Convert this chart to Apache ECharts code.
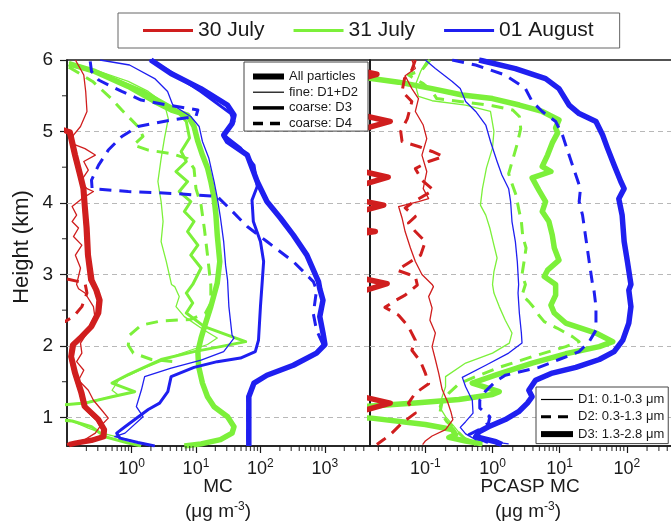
<!DOCTYPE html>
<html>
<head>
<meta charset="utf-8">
<script src="https://cdn.jsdelivr.net/npm/echarts/dist/echarts.min.js"></script>
<style>html,body{margin:0;padding:0;background:#fff}#chart{width:671px;height:524px}</style>
</head>
<body>
<div id="chart"></div>
<script>
// ---------- categories / labels ----------
const days = ['30 July', '31 July', '01 August'];
const leftKinds = ['All particles', 'fine: D1+D2', 'coarse: D3', 'coarse: D4'];
const rightKinds = ['D1: 0.1-0.3 μm', 'D2: 0.3-1.3 μm', 'D3: 1.3-2.8 μm'];
const gridLevels = [1, 2, 3, 4, 5];
const halfTicksY = [1.5, 2.5, 3.5, 4.5, 5.5];
const minorTicksLeft = [0.2,0.3,0.4,0.5,0.6,0.7,0.8,0.9,2,3,4,5,6,7,8,9,20,30,40,50,60,70,80,90,200,300,400,500,600,700,800,900,2000,3000,4000];
const minorTicksRight = [0.02,0.03,0.04,0.05,0.06,0.07,0.08,0.09,0.2,0.3,0.4,0.5,0.6,0.7,0.8,0.9,2,3,4,5,6,7,8,9,20,30,40,50,60,70,80,90,200,300,400,500,600,700,800,900];

// ---------- left panel: MC [value, height km] ----------
const redAllL = [[0.05,5.1],[0.112,4.99],[0.135,4.67],[0.162,4.39],[0.182,4.20],[0.19,3.97],[0.204,3.65],[0.214,3.27],[0.243,2.92],[0.288,2.78],[0.324,2.64],[0.309,2.46],[0.24,2.27],[0.17,2.13],[0.126,2.02],[0.117,1.85],[0.135,1.62],[0.17,1.34],[0.19,1.15],[0.309,0.97],[0.38,0.83],[0.372,0.73],[0.24,0.68],[0.135,0.64],[0.107,0.62]];
const redD3L = [[0.05,5.1],[0.105,4.98],[0.126,4.67],[0.151,4.39],[0.17,4.20],[0.178,3.97],[0.19,3.65],[0.2,3.27],[0.224,2.92],[0.269,2.78],[0.3,2.64],[0.288,2.46],[0.224,2.27],[0.158,2.13],[0.117,2.02],[0.11,1.85],[0.126,1.62],[0.158,1.34],[0.178,1.15],[0.288,0.97],[0.355,0.83],[0.347,0.73],[0.224,0.68],[0.126,0.64],[0.1,0.62]];
const redFineL = [[0.135,6.0],[0.182,5.79],[0.195,5.56],[0.204,5.28],[0.162,5.07],[0.126,4.95],[0.12,4.83],[0.19,4.76],[0.275,4.67],[0.182,4.58],[0.214,4.46],[0.162,4.30],[0.204,4.20],[0.257,4.16],[0.17,4.06],[0.12,3.95],[0.141,3.83],[0.12,3.74],[0.151,3.65],[0.126,3.53],[0.17,3.41],[0.135,3.27],[0.162,3.09],[0.141,2.86],[0.151,2.80],[0.19,2.74],[0.257,2.55],[0.275,2.36],[0.204,2.18],[0.162,2.04],[0.17,1.90],[0.141,1.78],[0.182,1.66],[0.151,1.52],[0.214,1.38],[0.257,1.24],[0.347,1.10],[0.437,0.99],[0.324,0.87],[0.275,0.78],[0.19,0.69],[0.112,0.63]];
const redD4L = [[0.05,3.0],[0.19,2.88],[0.204,2.74],[0.17,2.55],[0.126,2.41],[0.093,2.34],[0.05,2.3]];

const greenAllL = [[0.107,5.95],[0.27,5.84],[0.891,5.63],[2.29,5.42],[4.17,5.30],[7.41,5.23],[9.33,5.07],[10.7,4.86],[12.6,4.67],[15.1,4.49],[17,4.30],[19.1,4.07],[20.4,3.83],[21.4,3.55],[23.4,3.18],[21.4,2.88],[17,2.55],[14.1,2.32],[12,2.11],[10.7,1.92],[11,1.71],[12.6,1.48],[15.1,1.29],[19.1,1.15],[30.9,1.01],[38.9,0.87],[36.3,0.78],[24,0.69],[12,0.63],[6.61,0.6]];
const greenD3L = [[0.107,5.93],[0.347,5.81],[1.58,5.56],[4.68,5.32],[7.08,5.14],[7.94,4.91],[5.89,4.72],[7.08,4.58],[4.9,4.44],[7.41,4.30],[5.5,4.16],[8.32,4.02],[6.61,3.88],[9.33,3.74],[7.41,3.60],[10.7,3.41],[8.32,3.27],[12,3.09],[8.91,2.86],[7.08,2.74],[8.91,2.60],[7.08,2.46],[13.5,2.27],[30.9,2.15],[58.9,2.06],[24,1.99],[9.33,1.92],[2.88,1.81],[0.891,1.60],[0.5,1.48],[1.12,1.36],[0.5,1.29],[0.19,1.20],[0.05,1.16],[0.05,0.97],[0.12,0.95],[0.24,0.87],[0.389,0.73],[0.891,0.64],[1.41,0.6]];
const greenFineL = [[0.107,5.97],[0.275,5.86],[0.891,5.70],[1.82,5.56],[3.24,5.39],[3.72,5.18],[3.24,4.90],[2.88,4.62],[2.57,4.30],[2.88,4.02],[3.09,3.74],[2.88,3.46],[3.47,3.18],[4.17,2.86],[4.68,2.83],[5.5,2.69],[4.9,2.55],[6.61,2.41],[13.5,2.22],[21.4,2.11],[15.1,2.02],[5.25,1.88],[1.58,1.69],[0.631,1.52],[0.5,1.38],[0.631,1.31],[0.17,1.20],[0.05,1.17],[0.05,0.98],[0.107,0.97],[0.214,0.85],[0.347,0.78],[0.891,0.69],[2.04,0.6]];
const greenD4L = [[0.107,5.9],[0.25,5.7],[0.5,5.45],[0.708,5.30],[1.26,5.07],[1.51,4.93],[1.07,4.81],[1.82,4.74],[4.17,4.69],[7.41,4.62],[9.33,4.48],[10,4.20],[12,3.97],[13.5,3.64],[15.1,3.27],[17,2.85],[17,2.60],[14.1,2.46],[8.32,2.37],[2.88,2.35],[1.41,2.29],[0.933,2.15],[0.891,2.01],[1.07,1.90],[2.04,1.81],[4.68,1.78]];

const blueAllL = [[2.0,6.0],[4.1,5.81],[11.9,5.60],[30.7,5.37],[38.9,5.23],[36.3,5.11],[26.9,4.95],[30.9,4.86],[62.4,4.67],[89.1,4.30],[126,4.02],[204,3.79],[324,3.55],[525,3.27],[794,2.90],[832,2.80],[933,2.64],[832,2.41],[933,2.18],[1000,2.02],[741,1.90],[324,1.73],[126,1.59],[79.4,1.48],[66,1.29],[66,1.06],[66,0.6]];
const blueD3L = [[1.9,6.0],[3.63,5.86],[11.9,5.56],[34.7,5.25],[38.9,5.14],[26.9,4.95],[49,4.77],[79.4,4.53],[89.1,4.23],[74,4.04],[77.6,3.74],[100,3.46],[112,3.18],[107,2.92],[100,2.55],[93.3,2.08],[83.2,1.92],[49,1.83],[21.4,1.78],[9.33,1.70],[4.12,1.57],[3.66,1.36],[2.73,1.20],[1.82,1.11],[0.794,0.87],[0.589,0.78],[0.661,0.71],[1.26,0.65],[2.29,0.6]];
const blueFineL = [[0.324,6.0],[0.933,5.93],[2.29,5.74],[3.63,5.56],[4.37,5.37],[8.32,5.21],[11.2,5.07],[12.6,4.86],[15.8,4.63],[19.1,4.30],[21.4,4.07],[24,3.79],[26.9,3.46],[28.8,3.13],[30.9,2.92],[32.4,2.55],[36.3,2.15],[38.9,2.11],[26.9,1.92],[12,1.80],[4.12,1.69],[1.6,1.57],[1.43,1.39],[1.19,1.15],[1.51,1.01],[0.794,0.78],[0.55,0.73],[1.26,0.65],[2.29,0.6]];
const blueD4L = [[0.229,5.98],[0.24,5.84],[0.309,5.72],[0.708,5.56],[1.41,5.44],[3.63,5.37],[10.7,5.30],[10,5.21],[4.17,5.16],[1.26,5.07],[0.708,4.93],[0.437,4.74],[0.309,4.53],[0.24,4.32],[0.245,4.20],[0.891,4.16],[5.25,4.13],[21.4,4.09],[30.9,3.95],[62.4,3.67],[126,3.46],[324,3.18],[661,2.90],[741,2.78],[661,2.45],[741,2.22],[933,2.02],[741,1.90],[324,1.73],[126,1.59],[79.4,1.48],[64,1.29],[64,0.6]];

// ---------- right panel: PCASP MC [value, height km] ----------
const redD1R = [[0.063,6.0],[0.071,5.88],[0.05,5.78],[0.063,5.60],[0.079,5.46],[0.071,5.28],[0.093,5.09],[0.105,4.90],[0.089,4.67],[0.105,4.44],[0.093,4.20],[0.112,4.06],[0.079,4.02],[0.04,3.95],[0.045,3.79],[0.05,3.60],[0.06,3.37],[0.071,3.18],[0.089,3.00],[0.126,2.86],[0.132,2.83],[0.112,2.69],[0.126,2.53],[0.117,2.36],[0.141,2.18],[0.126,1.99],[0.141,1.81],[0.158,1.62],[0.178,1.39],[0.214,1.22],[0.24,1.08],[0.257,0.97],[0.2,0.83],[0.126,0.74],[0.1,0.67],[0.091,0.62]];
const redD2R = [[0.071,6.0],[0.063,5.86],[0.049,5.74],[0.045,5.56],[0.063,5.42],[0.054,5.18],[0.043,5.00],[0.045,4.86],[0.079,4.79],[0.126,4.72],[0.186,4.65],[0.112,4.58],[0.071,4.48],[0.089,4.32],[0.132,4.18],[0.068,4.02],[0.05,3.93],[0.071,3.81],[0.056,3.72],[0.071,3.60],[0.1,3.46],[0.085,3.27],[0.056,3.16],[0.038,3.06],[0.071,2.97],[0.076,2.85],[0.05,2.71],[0.035,2.63],[0.025,2.54],[0.04,2.43],[0.056,2.27],[0.071,2.08],[0.063,1.94],[0.085,1.78],[0.1,1.62],[0.112,1.47],[0.071,1.34],[0.056,1.20],[0.071,1.06],[0.045,0.92],[0.0316,0.78],[0.024,0.69],[0.019,0.62]];
const redD3R = [[0.005,6.0],[0.005,5.92],[0.019,5.8],[0.008,5.7],[0.005,5.62],[0.005,5.3],[0.03,5.14],[0.008,4.99],[0.005,4.95],[0.005,4.52],[0.028,4.36],[0.008,4.21],[0.005,4.16],[0.005,4.1],[0.024,3.97],[0.008,3.85],[0.005,3.8],[0.005,3.68],[0.018,3.6],[0.005,3.52],[0.005,3.02],[0.027,2.87],[0.008,2.72],[0.005,2.68],[0.005,1.37],[0.03,1.2],[0.008,1.05],[0.005,1.0],[0.005,0.6]];

const greenD1R = [[0.107,6.0],[0.085,5.84],[0.071,5.65],[0.079,5.49],[0.126,5.43],[0.398,5.37],[0.933,5.28],[1.05,5.00],[1,4.77],[0.813,4.49],[0.708,4.20],[0.661,3.97],[0.794,3.83],[0.912,3.65],[1.05,3.41],[1.17,3.23],[1.05,3.04],[1,2.86],[1.05,2.74],[1.26,2.55],[1.55,2.36],[1.95,2.18],[1.78,2.04],[1,1.90],[0.398,1.76],[0.2,1.57],[0.2,1.43],[0.178,1.29],[0.162,1.15],[0.2,1.01],[0.269,0.87],[0.355,0.73],[0.708,0.62]];
const greenD2R = [[0.117,6.0],[0.089,5.86],[0.056,5.79],[0.093,5.67],[0.126,5.56],[0.148,5.46],[0.398,5.41],[1,5.36],[2,5.30],[2.51,5.21],[2.63,5.04],[2.34,4.83],[2.09,4.67],[1.74,4.41],[1.95,4.27],[2.24,4.11],[2.45,3.92],[2.69,3.74],[2.82,3.53],[3.16,3.37],[2.95,3.18],[2.75,3.00],[3.09,2.86],[2.75,2.71],[3.47,2.62],[4.17,2.53],[4.9,2.43],[5.89,2.34],[9.12,2.25],[15.5,2.13],[19.5,2.06],[12.3,1.99],[3.89,1.85],[1.26,1.70],[0.562,1.57],[0.316,1.47],[0.224,1.34],[0.178,1.22],[0.166,1.08],[0.209,0.94],[0.282,0.83],[0.398,0.69],[0.562,0.62]];
const greenD3R = [[0.0063,5.78],[0.0158,5.74],[0.04,5.69],[0.126,5.60],[0.355,5.51],[1,5.46],[2.51,5.37],[5.5,5.28],[9.77,5.16],[8.71,5.05],[9.33,4.98],[7.76,4.84],[6.61,4.67],[5.5,4.51],[7.41,4.44],[3.89,4.35],[4.9,4.18],[6.17,4.02],[5.5,3.88],[6.92,3.74],[7.76,3.55],[8.32,3.37],[9.77,3.20],[6.61,3.06],[5.89,2.97],[8.71,2.86],[8.71,2.71],[7.41,2.57],[8.32,2.46],[12.3,2.32],[34.7,2.18],[61.7,2.06],[38.9,1.99],[12.3,1.89],[3.89,1.76],[1.1,1.59],[0.5,1.48],[1.26,1.36],[1,1.32],[0.316,1.25],[0.071,1.20],[0.0158,1.16],[0.0063,1.14],[0.0063,1.01],[0.0158,0.99],[0.1,0.90],[0.251,0.83],[0.282,0.76],[0.224,0.72],[0.398,0.67],[0.708,0.63]];

const blueD1R = [[0.1,6.0],[0.141,5.88],[0.251,5.70],[0.331,5.60],[0.398,5.42],[0.562,5.28],[0.794,5.09],[0.933,4.86],[1.17,4.58],[1.38,4.39],[1.74,4.20],[1.86,4.02],[1.95,3.74],[2.19,3.46],[2.34,3.18],[2.45,2.86],[2.4,2.74],[2.51,2.46],[2.69,2.18],[2.75,2.04],[1.74,1.90],[0.794,1.73],[0.355,1.56],[0.398,1.43],[0.5,1.24],[0.513,1.06],[0.398,0.94],[0.331,0.86],[0.398,0.77],[0.562,0.69],[1.74,0.63]];
const blueD2R = [[0.251,6.0],[0.562,5.93],[1.55,5.79],[3.09,5.60],[3.89,5.42],[5.5,5.28],[8.71,5.14],[11,4.95],[13.8,4.67],[17.4,4.39],[20.4,4.20],[19.5,4.02],[21.9,3.83],[24.5,3.51],[27.5,3.18],[30.9,2.86],[32.4,2.78],[34.7,2.55],[34.7,2.22],[27.5,2.06],[19.5,1.92],[9.77,1.81],[4.9,1.70],[1.55,1.59],[1.1,1.50],[0.776,1.36],[0.646,1.24],[0.646,1.13],[0.912,1.01],[0.871,0.92],[0.631,0.83],[0.447,0.76],[0.794,0.66],[1.26,0.62]];
const blueD3R = [[0.631,6.0],[2.19,5.88],[6.17,5.74],[9.77,5.60],[13.8,5.37],[19.5,5.25],[34.7,5.14],[43.6,4.95],[51.3,4.77],[64.6,4.53],[81.3,4.30],[91.2,4.20],[75.9,4.06],[85.1,3.83],[91.2,3.46],[102,3.18],[115,2.86],[107,2.78],[115,2.55],[107,2.32],[87.1,2.08],[64.6,1.92],[38.9,1.81],[17.4,1.70],[7.76,1.62],[4.37,1.52],[3.47,1.38],[3.89,1.29],[3.31,1.20],[2.45,1.08],[1.55,0.97],[0.871,0.87],[0.631,0.80],[0.562,0.73],[1.12,0.66],[1.38,0.62]];

// ---------- styling ----------
const FONT = '"Liberation Sans", Arial, Helvetica, sans-serif';
const RED = '#D01E1E', GREEN = '#7CF03A', BLUE = '#1F1FF0';
const INK = '#1a1a1a';
const DASH = [12, 8];
const W_THICK = 5.5, W_MED = 3, W_THIN = 1.3;

function prof(name, data, gi, color, width, dashed, extra) {
  return Object.assign({
    name: name, type: 'line', xAxisIndex: gi, yAxisIndex: gi, data: data,
    symbol: 'none', showSymbol: false, silent: true, animation: false,
    color: color,
    lineStyle: { color: color, width: width, type: dashed ? DASH : 'solid', join: 'round' }
  }, extra || {});
}
function gridMarks() {
  return {
    silent: true, symbol: 'none', z: 1, animation: false,
    label: { show: false },
    lineStyle: { type: [5, 4], color: '#b8b8b8', width: 1 },
    data: gridLevels.map(v => ({ yAxis: v }))
  };
}
function dummy(name, color, width, dashed) {
  return { name: name, type: 'line', xAxisIndex: 0, yAxisIndex: 0, data: [], symbol: 'none', color: color,
    lineStyle: { color: color, width: width, type: dashed ? [10, 7] : 'solid' } };
}
function legItem(name, width, dashed) {
  return { name: name, lineStyle: { width: width, type: dashed ? [10, 7] : 'solid', color: '#000' } };
}
const richX = {
  b: { fontSize: 18, fontFamily: FONT, color: INK, lineHeight: 22 },
  s: { fontSize: 12, fontFamily: FONT, color: INK, lineHeight: 14, verticalAlign: 'top' }
};
function xAxisCfg(gi, min, max) {
  return {
    gridIndex: gi, type: 'log', logBase: 10, min: min, max: max,
    splitLine: { show: false },
    axisLine: { lineStyle: { color: INK, width: 1.5 } },
    axisTick: { length: 7, lineStyle: { color: INK, width: 1.2 } },
    axisLabel: {
      margin: 12, showMinLabel: false, showMaxLabel: false, color: INK,
      formatter: v => '{b|10}{s|' + Math.round(Math.log10(v)) + '}',
      rich: richX
    }
  };
}
function tickSeries(gi, data, size, offset) {
  return { type: 'scatter', xAxisIndex: gi, yAxisIndex: gi, data: data, symbol: 'rect',
    symbolSize: size, symbolOffset: offset, clip: false, silent: true, z: 6, animation: false,
    itemStyle: { color: INK } };
}

const series = [
  // legend helpers
  dummy(days[0], RED, 3), dummy(days[1], GREEN, 3), dummy(days[2], BLUE, 3),
  dummy(leftKinds[0], '#000', 6), dummy(leftKinds[1], '#000', 1.2), dummy(leftKinds[2], '#000', 3.5), dummy(leftKinds[3], '#000', 3.5, true),
  dummy(rightKinds[0], '#000', 1.2), dummy(rightKinds[1], '#000', 3, true), dummy(rightKinds[2], '#000', 6),
  // left panel
  prof('gFineL', greenFineL, 0, GREEN, W_THIN, false, { markLine: gridMarks() }),
  prof('gD4L', greenD4L, 0, GREEN, W_MED, true),
  prof('gD3L', greenD3L, 0, GREEN, W_MED, false),
  prof('gAllL', greenAllL, 0, GREEN, W_THICK, false),
  prof('bFineL', blueFineL, 0, BLUE, W_THIN, false),
  prof('bD3L', blueD3L, 0, BLUE, W_MED, false),
  prof('bAllL', blueAllL, 0, BLUE, W_THICK, false),
  prof('bD4L', blueD4L, 0, BLUE, W_MED, true),
  prof('rFineL', redFineL, 0, RED, W_THIN, false),
  prof('rD4L', redD4L, 0, RED, W_MED, true),
  prof('rAllL', redAllL, 0, RED, W_THICK, false),
  prof('rD3L', redD3L, 0, RED, W_MED, false),
  // right panel
  prof('gD1R', greenD1R, 1, GREEN, W_THIN, false, { markLine: gridMarks() }),
  prof('gD2R', greenD2R, 1, GREEN, W_MED, true),
  prof('gD3R', greenD3R, 1, GREEN, W_THICK, false),
  prof('bD1R', blueD1R, 1, BLUE, W_THIN, false),
  prof('bD2R', blueD2R, 1, BLUE, W_MED, true),
  prof('bD3R', blueD3R, 1, BLUE, W_THICK, false),
  prof('rD1R', redD1R, 1, RED, W_THIN, false),
  prof('rD2R', redD2R, 1, RED, W_MED, true),
  prof('rD3R', redD3R, 1, RED, W_THICK, false),
  // minor ticks
  tickSeries(0, minorTicksLeft.map(v => [v, 0.6]), [1.2, 5], [0, 2.5]),
  tickSeries(1, minorTicksRight.map(v => [v, 0.6]), [1.2, 5], [0, 2.5]),
  tickSeries(0, halfTicksY.map(h => [0.1, h]), [5, 1.2], [-2.5, 0])
];

const chart = echarts.init(document.getElementById('chart'), null, { renderer: 'canvas' });
chart.setOption({
  animation: false,
  backgroundColor: '#fff',
  textStyle: { fontFamily: FONT },
  grid: [
    { left: 67, top: 60, width: 303, height: 386, show: true, borderColor: INK, borderWidth: 1.5, outerBoundsMode: 'none', containLabel: false },
    { left: 370, top: 60, width: 324, height: 386, show: true, borderColor: INK, borderWidth: 1.5, outerBoundsMode: 'none', containLabel: false }
  ],
  xAxis: [xAxisCfg(0, 0.1, 5000), xAxisCfg(1, 0.015, 1000)],
  yAxis: [
    { gridIndex: 0, type: 'value', min: 0.6, max: 6, splitNumber: 5,
      splitLine: { show: false },
      axisLine: { lineStyle: { color: INK, width: 1.5 } },
      axisTick: { length: 7, lineStyle: { color: INK, width: 1.2 } },
      axisLabel: { fontSize: 19, color: INK, margin: 14, showMinLabel: false,
        formatter: v => (Math.abs(v - Math.round(v)) < 1e-6 ? String(Math.round(v)) : '') } },
    { gridIndex: 1, type: 'value', min: 0.6, max: 6, splitNumber: 5,
      splitLine: { show: false },
      axisLine: { lineStyle: { color: INK, width: 1.5 } },
      axisTick: { show: false }, axisLabel: { show: false } }
  ],
  legend: [
    { data: days, left: 118, top: 13, orient: 'horizontal', padding: [7, 26, 7, 25], itemGap: 29,
      itemWidth: 50, itemHeight: 3, icon: 'rect', borderColor: '#666', borderWidth: 1,
      backgroundColor: '#fff', selectedMode: false,
      textStyle: { fontSize: 21, color: INK, fontFamily: FONT } },
    { data: [legItem(leftKinds[0], 6), legItem(leftKinds[1], 1.2), legItem(leftKinds[2], 3.5), legItem(leftKinds[3], 3.5, true)],
      left: 244, top: 62, orient: 'vertical', padding: [8, 10, 1, 6], itemGap: 2.7,
      itemWidth: 31, itemHeight: 14, borderColor: '#444', borderWidth: 1, backgroundColor: '#fff',
      selectedMode: false, itemStyle: { opacity: 0 },
      textStyle: { fontSize: 13, color: INK, fontFamily: FONT } },
    { data: [legItem(rightKinds[0], 1.2), legItem(rightKinds[1], 3, true), legItem(rightKinds[2], 6)],
      left: 536, top: 387, orient: 'vertical', padding: [6, 4, 3, 2], itemGap: 4.3,
      itemWidth: 32, itemHeight: 14, borderColor: '#444', borderWidth: 1, backgroundColor: '#fff',
      selectedMode: false, itemStyle: { opacity: 0 },
      textStyle: { fontSize: 13, color: INK, fontFamily: FONT } }
  ],
  graphic: [
    { type: 'text', x: 22, y: 247, rotation: Math.PI / 2,
      style: { text: 'Height (km)', fontSize: 22, fontFamily: FONT, fill: INK, align: 'center', verticalAlign: 'middle' } },
    { type: 'text', x: 218, y: 487,
      style: { text: 'MC', fontSize: 19, fontFamily: FONT, fill: INK, align: 'center', verticalAlign: 'middle' } },
    { type: 'text', x: 218, y: 512,
      style: { text: '{a|(μg m}{s|-3}{a|)}', align: 'center', verticalAlign: 'middle',
        rich: { a: { fontSize: 19, fontFamily: FONT, fill: INK, color: INK, lineHeight: 22 },
                s: { fontSize: 12, fontFamily: FONT, fill: INK, color: INK, lineHeight: 14, verticalAlign: 'top' } } } },
    { type: 'text', x: 530, y: 487,
      style: { text: 'PCASP MC', fontSize: 19, fontFamily: FONT, fill: INK, align: 'center', verticalAlign: 'middle' } },
    { type: 'text', x: 528, y: 512,
      style: { text: '{a|(μg m}{s|-3}{a|)}', align: 'center', verticalAlign: 'middle',
        rich: { a: { fontSize: 19, fontFamily: FONT, fill: INK, color: INK, lineHeight: 22 },
                s: { fontSize: 12, fontFamily: FONT, fill: INK, color: INK, lineHeight: 14, verticalAlign: 'top' } } } }
  ],
  series: series
});
</script>
</body>
</html>
